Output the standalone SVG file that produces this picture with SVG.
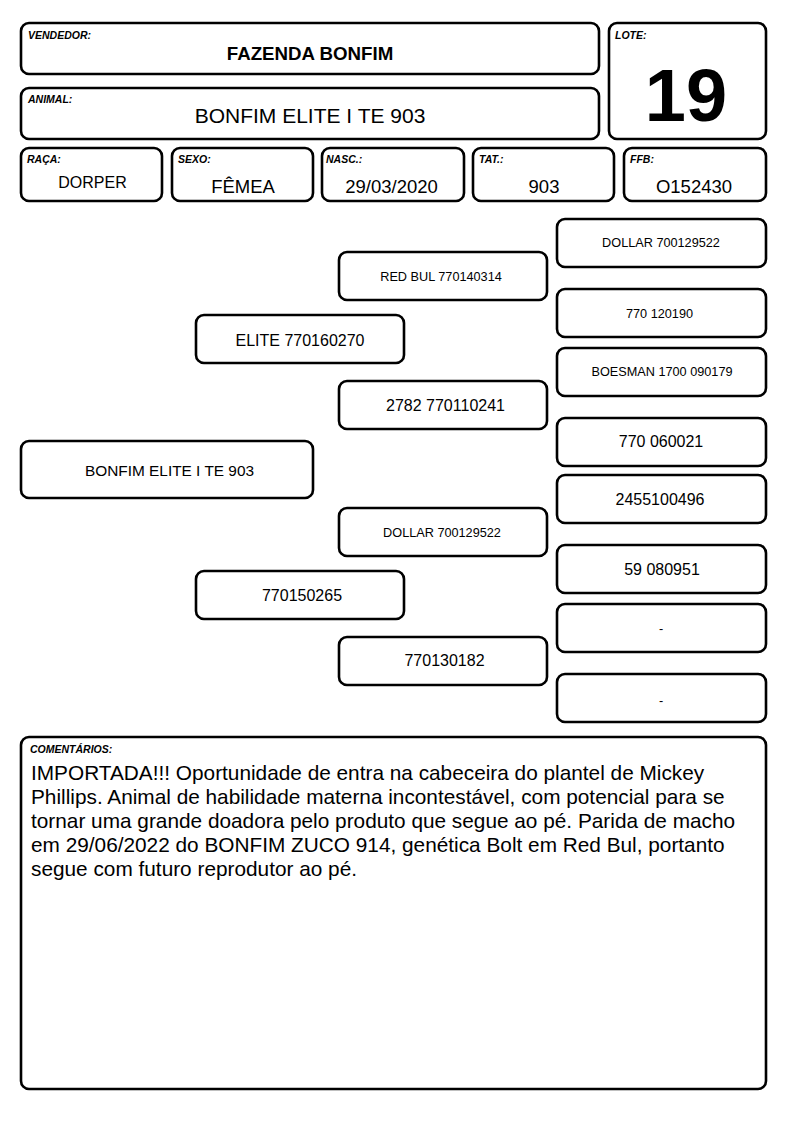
<svg xmlns="http://www.w3.org/2000/svg" width="794" height="1123" viewBox="0 0 794 1123">
<style>
.box{fill:#fff;stroke:#000;stroke-width:2.6}
.lbl{font-family:"Liberation Sans",Arial,sans-serif;font-weight:bold;font-style:italic;font-size:10.5px;fill:#000}
.t{font-family:"Liberation Sans",Arial,sans-serif;fill:#000;text-anchor:middle}
.s{font-size:12.7px}
.m{font-size:16px}
.v{font-size:18.5px}
.c{font-family:"Liberation Sans",Arial,sans-serif;font-size:20.8px;fill:#000}
</style>
<rect width="794" height="1123" fill="#fff"/>
<g id="vendedor">
<rect class="box" x="21" y="23" width="578" height="51" rx="8"/>
<text class="lbl" x="28" y="38.5">VENDEDOR:</text>
<text class="t" x="310" y="60" style="font-size:18.7px;font-weight:bold">FAZENDA BONFIM</text>
</g>
<g id="lote">
<rect class="box" x="609" y="23" width="157" height="116" rx="8"/>
<text class="lbl" x="615" y="38.5">LOTE:</text>
<text class="t" x="686" y="120.5" style="font-size:74px;font-weight:bold">19</text>
</g>
<g id="animal">
<rect class="box" x="21" y="88" width="578" height="51" rx="8"/>
<text class="lbl" x="28" y="102.5">ANIMAL:</text>
<text class="t" x="310" y="123.3" style="font-size:21px">BONFIM ELITE I TE 903</text>
</g>
<g id="raca">
<rect class="box" x="21" y="148" width="141" height="53" rx="8"/>
<text class="lbl" x="27" y="162.5">RAÇA:</text>
<text class="t m" x="92.5" y="188">DORPER</text>
</g>
<g id="sexo">
<rect class="box" x="172" y="148" width="141" height="53" rx="8"/>
<text class="lbl" x="178" y="162.5">SEXO:</text>
<text class="t v" x="243" y="193.3">FÊMEA</text>
</g>
<g id="nasc">
<rect class="box" x="322" y="148" width="142" height="53" rx="8"/>
<text class="lbl" x="326" y="162.5">NASC.:</text>
<text class="t v" x="391.5" y="193.3">29/03/2020</text>
</g>
<g id="tat">
<rect class="box" x="473" y="148" width="141" height="53" rx="8"/>
<text class="lbl" x="479" y="162.5">TAT.:</text>
<text class="t v" x="544" y="193.3">903</text>
</g>
<g id="ffb">
<rect class="box" x="624" y="148" width="142" height="53" rx="8"/>
<text class="lbl" x="630" y="162.5">FFB:</text>
<text class="t v" x="694" y="193.3">O152430</text>
</g>
<g id="connectors"></g>
<g id="p-main">
<rect class="box" x="21" y="441" width="292" height="57" rx="8"/>
<text class="t" x="169.5" y="475.5" style="font-size:15.4px">BONFIM ELITE I TE 903</text>
</g>
<g id="p-sire">
<rect class="box" x="196" y="315" width="208" height="48" rx="8"/>
<text class="t m" x="300" y="345.5">ELITE 770160270</text>
</g>
<g id="p-dam">
<rect class="box" x="196" y="571" width="208" height="48" rx="8"/>
<text class="t m" x="302" y="601">770150265</text>
</g>
<g id="p-ss">
<rect class="box" x="339" y="252" width="208" height="48" rx="8"/>
<text class="t s" x="441" y="280.5">RED BUL 770140314</text>
</g>
<g id="p-sd">
<rect class="box" x="339" y="381" width="208" height="48" rx="8"/>
<text class="t m" x="445.5" y="410.5">2782 770110241</text>
</g>
<g id="p-ds">
<rect class="box" x="339" y="508" width="208" height="48" rx="8"/>
<text class="t s" x="442" y="536.5">DOLLAR 700129522</text>
</g>
<g id="p-dd">
<rect class="box" x="339" y="637" width="208" height="48" rx="8"/>
<text class="t m" x="444.5" y="666">770130182</text>
</g>
<g id="p-sss">
<rect class="box" x="557" y="219" width="209" height="48" rx="8"/>
<text class="t s" x="661" y="246.5">DOLLAR 700129522</text>
</g>
<g id="p-ssd">
<rect class="box" x="557" y="289" width="209" height="48" rx="8"/>
<text class="t s" x="659.5" y="317.5">770 120190</text>
</g>
<g id="p-sds">
<rect class="box" x="557" y="348" width="209" height="48" rx="8"/>
<text class="t s" x="662" y="375.5">BOESMAN 1700 090179</text>
</g>
<g id="p-sdd">
<rect class="box" x="557" y="418" width="209" height="48" rx="8"/>
<text class="t m" x="661" y="447">770 060021</text>
</g>
<g id="p-dss">
<rect class="box" x="557" y="475" width="209" height="48" rx="8"/>
<text class="t m" x="660" y="504.5">2455100496</text>
</g>
<g id="p-dsd">
<rect class="box" x="557" y="545" width="209" height="48" rx="8"/>
<text class="t m" x="662" y="574.5">59 080951</text>
</g>
<g id="p-dds">
<rect class="box" x="557" y="604" width="209" height="48" rx="8"/>
<text class="t s" x="661" y="633">-</text>
</g>
<g id="p-ddd">
<rect class="box" x="557" y="674" width="209" height="48" rx="8"/>
<text class="t s" x="661" y="705">-</text>
</g>
<g id="comentarios">
<rect class="box" x="21" y="737" width="745" height="352" rx="8"/>
<text class="lbl" x="30" y="752.5">COMENTÁRIOS:</text>
<text class="c" x="31" y="779.5">IMPORTADA!!! Oportunidade de entra na cabeceira do plantel de Mickey</text>
<text class="c" x="31" y="803.5">Phillips. Animal de habilidade materna incontestável, com potencial para se</text>
<text class="c" x="31" y="827.5">tornar uma grande doadora pelo produto que segue ao pé. Parida de macho</text>
<text class="c" x="31" y="851.5">em 29/06/2022 do BONFIM ZUCO 914, genética Bolt em Red Bul, portanto</text>
<text class="c" x="31" y="875.5">segue com futuro reprodutor ao pé.</text>
</g>
</svg>
